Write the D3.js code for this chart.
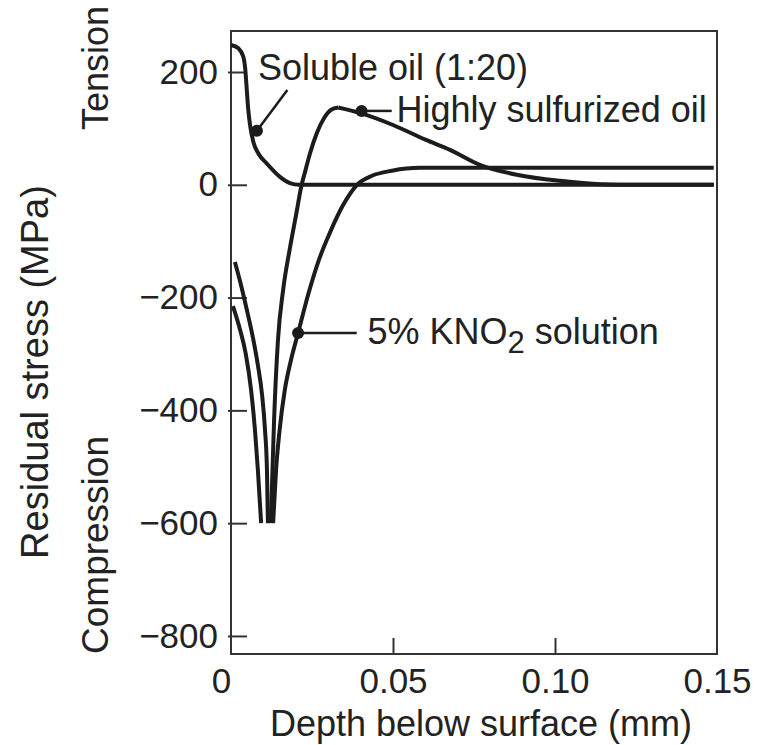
<!DOCTYPE html>
<html>
<head>
<meta charset="utf-8">
<script src="https://cdn.jsdelivr.net/npm/d3@7"></script>
<style>
  body { margin: 0; background: #fff; }
  text { font-family: "Liberation Sans", Arial, Helvetica, sans-serif; fill: #222; }
</style>
</head>
<body>
<svg id="chart" width="757" height="745"></svg>
<script>
// values: depth in mm, residual stress in MPa
const solubleDepth  = [0, 0.0023, 0.0038, 0.0044, 0.0048, 0.0053, 0.0059, 0.0069, 0.0085, 0.011, 0.0151, 0.0182, 0.021, 0.149]
const solubleStress = [248, 242, 227, 205, 174, 135, 105, 76, 55, 38, 14, 3, 0, 0]

const sulfurDepth  = [0.0012, 0.0031, 0.0049, 0.0068, 0.0083, 0.0096, 0.0105, 0.0111, 0.0114,
                      0.0123, 0.0128, 0.0133, 0.0145, 0.0161, 0.0181, 0.0201, 0.0218, 0.0230, 0.0244,
                      0.0265, 0.0287, 0.0309, 0.0331,
                      0.040, 0.050, 0.060, 0.0676, 0.077, 0.089, 0.1015, 0.114, 0.125, 0.149]
const sulfurStress = [-137, -178, -222, -272, -320, -373, -435, -506, -600,
                      -600, -506, -417, -275, -186, -115, -53, 0, 26, 56,
                      92, 118, 133, 137,
                      127, 106, 80, 62, 35, 17, 7, 1, 0, 0]

const nitriteDepth  = [0.0006, 0.0028, 0.0046, 0.0062, 0.0074, 0.0083, 0.0093,
                       0.0130, 0.0139, 0.0150, 0.0166, 0.0185, 0.0207, 0.0238, 0.0269, 0.0306, 0.0346,
                       0.0389, 0.0435, 0.0497, 0.0583, 0.149]
const nitriteStress = [-215, -257, -301, -364, -435, -506, -600,
                       -600, -506, -435, -364, -311, -263, -195, -137, -84, -36,
                       0, 16, 25, 30, 30]

const stressFloor = -600   // curves are cut off here

const xTicks = [0, 0.05, 0.10, 0.15]
const xTickLabels = ['0', '0.05', '0.10', '0.15']
const yTicks = [200, 0, -200, -400, -600, -800]

// callouts
const labelText  = ['Soluble oil (1:20)', 'Highly sulfurized oil', '5% KNO']
const labelX     = [0.0083, 0.0511, 0.0421]
const labelY     = [186, 112, -283]
const dotX       = [0.0080, 0.0403, 0.0207]
const dotY       = [96, 131, -263]
const leaderEndX = [0.0174, 0.0496, 0.0388]
const leaderEndY = [168, 131, -263]

const ink = '#1c1c1c'
let svg = d3.select('#chart')

let x = d3.scaleLinear().domain([0, 0.15]).range([231, 717])
let y = d3.scaleLinear().domain([-832, 272.7]).range([654, 31])

// frame
svg.append('rect')
.attr('x', x(0)).attr('y', y.range()[1])
.attr('width', x(0.15) - x(0)).attr('height', y.range()[0] - y.range()[1])
.attr('fill', 'none').attr('stroke', '#333').attr('stroke-width', 2)

// y axis, ticks pointing inward
let yAxis = svg.append('g')
.attr('transform', `translate(${x(0)},0)`)
.call(d3.axisLeft(y).tickValues(yTicks).tickSize(-16).tickSizeOuter(0).tickPadding(13)
    .tickFormat(d => d < 0 ? '\u2212' + Math.abs(d) : d))
yAxis.select('.domain').remove()
yAxis.selectAll('.tick line').attr('x1', -3).attr('stroke', '#333').attr('stroke-width', 2)
yAxis.selectAll('.tick text').attr('font-size', 35).attr('font-family', null).attr('fill', '#222')

// x axis
let xAxis = svg.append('g')
.attr('transform', `translate(0,${y.range()[0]})`)
.call(d3.axisBottom(x).tickValues(xTicks).tickSize(-16).tickSizeOuter(0).tickPadding(14)
    .tickFormat((d, i) => xTickLabels[i]))
xAxis.select('.domain').remove()
xAxis.selectAll('.tick line').attr('stroke', '#333').attr('stroke-width', 2)
    .attr('display', d => (d === 0 || d === 0.15) ? 'none' : null)
xAxis.selectAll('.tick text').attr('font-size', 35).attr('font-family', null).attr('fill', '#222')
    .attr('dx', d => d === 0 ? -10 : 0)

// axis titles
svg.append('text').text('Depth below surface (mm)')
.attr('x', 481).attr('y', 736)
.attr('text-anchor', 'middle').attr('font-size', 36)

svg.append('text').text('Residual stress (MPa)')
.attr('transform', 'translate(48,372) rotate(-90)')
.attr('text-anchor', 'middle').attr('font-size', 38)

svg.append('text').text('Tension')
.attr('transform', 'translate(108,68) rotate(-90)')
.attr('text-anchor', 'middle').attr('font-size', 36)

svg.append('text').text('Compression')
.attr('transform', 'translate(108,545) rotate(-90)')
.attr('text-anchor', 'middle').attr('font-size', 37)

// split a curve into runs that go one way in y, dropping the cut-off bottoms
function runs (pts) {
    let out = []
    let cur = [pts[0]]
    for (let i = 1; i < pts.length; i++) {
        let a = pts[i - 1], b = pts[i]
        if (a[1] === stressFloor && b[1] === stressFloor) {
            out.push(cur); cur = [b]; continue
        }
        if (cur.length >= 2) {
            let prev = cur[cur.length - 2]
            if ((a[1] - prev[1]) * (b[1] - a[1]) < 0) { out.push(cur); cur = [a] }
        }
        cur.push(b)
    }
    out.push(cur)
    return out
}

let line = d3.line().x(d => x(d[0])).y(d => y(d[1])).curve(d3.curveMonotoneX)

let series = [
    d3.zip(solubleDepth, solubleStress),
    d3.zip(sulfurDepth, sulfurStress),
    d3.zip(nitriteDepth, nitriteStress)
]

series.forEach(pts => {
    svg.append('g').selectAll('path')
    .data(runs(pts))
    .enter()
    .append('path')
    .attr('d', line)
    .attr('fill', 'none')
    .attr('stroke', ink)
    .attr('stroke-width', 4)
    .attr('stroke-linecap', 'butt')
    .attr('stroke-linejoin', 'round')
})

// callout leaders, dots and labels
let idx = d3.range(labelText.length)

svg.selectAll('line.leader')
.data(idx).enter().append('line')
.attr('class', 'leader')
.attr('x1', i => x(dotX[i])).attr('y1', i => y(dotY[i]))
.attr('x2', i => x(leaderEndX[i])).attr('y2', i => y(leaderEndY[i]))
.attr('stroke', ink).attr('stroke-width', 2.5)

svg.selectAll('circle.dot')
.data(idx).enter().append('circle')
.attr('class', 'dot')
.attr('cx', i => x(dotX[i])).attr('cy', i => y(dotY[i]))
.attr('r', 6).attr('fill', ink)

let labels = svg.selectAll('text.callout')
.data(idx).enter().append('text')
.attr('class', 'callout')
.attr('x', i => x(labelX[i])).attr('y', i => y(labelY[i]))
.attr('font-size', 36)
.text(i => labelText[i])

// subscript for KNO2
let kno = labels.filter(i => i === 2)
kno.append('tspan').attr('dy', 9).attr('font-size', 31).text('2')
kno.append('tspan').attr('dy', -9).text(' solution')
</script>
</body>
</html>
